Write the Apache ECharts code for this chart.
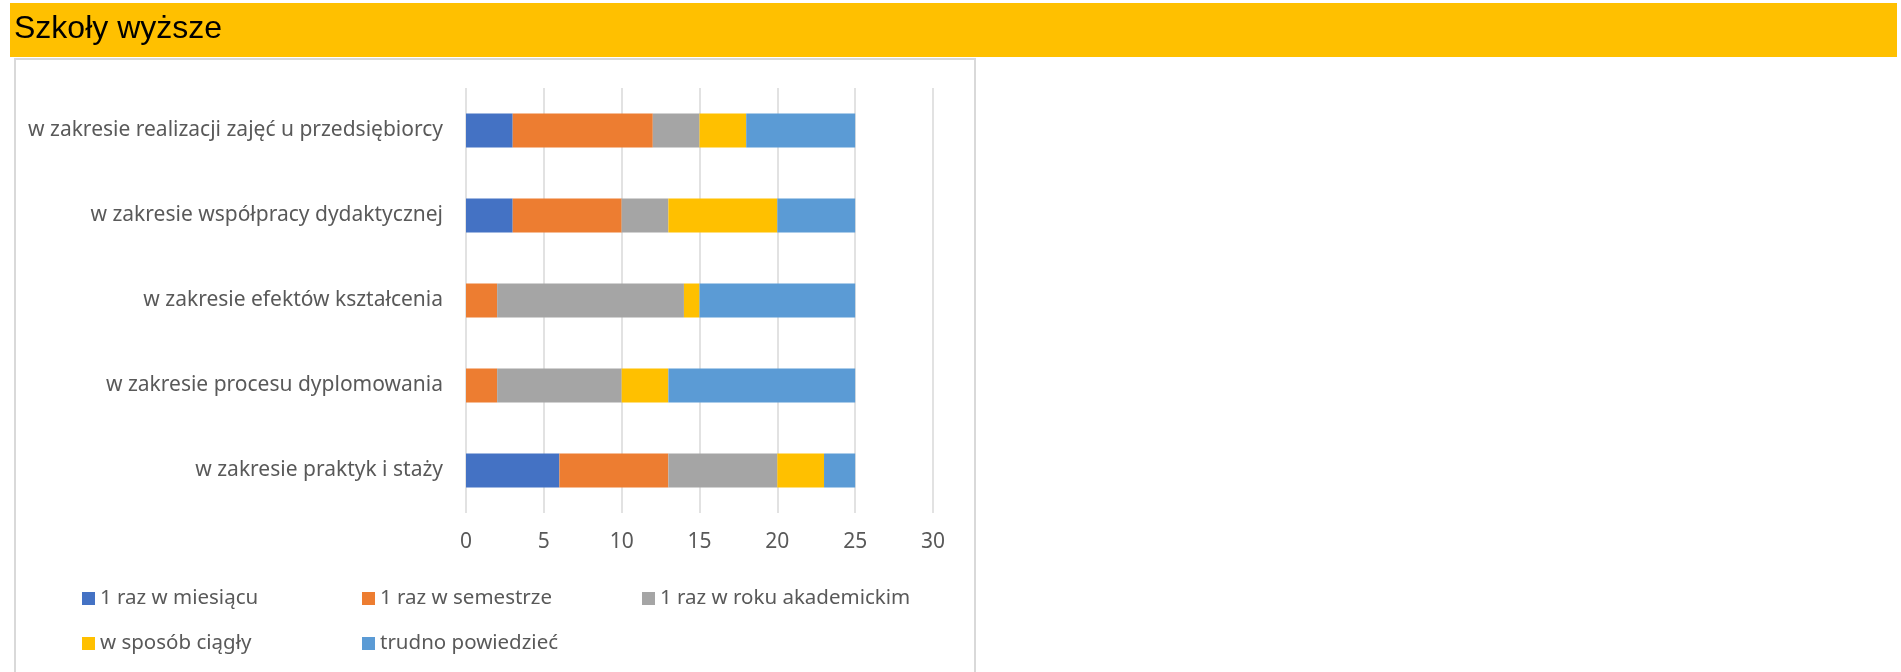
<!DOCTYPE html>
<html>
<head>
<meta charset="utf-8">
<script src="https://cdn.jsdelivr.net/npm/echarts@6/dist/echarts.min.js"></script>
<style>
  html, body { margin: 0; padding: 0; background: #fff; }
  #chart { width: 1901px; height: 672px; }
</style>
</head>
<body>
<div id="chart"></div>
<script>
// categories, top to bottom
var categories = [
    'w zakresie realizacji zajęć u przedsiębiorcy',
    'w zakresie współpracy dydaktycznej',
    'w zakresie efektów kształcenia',
    'w zakresie procesu dyplomowania',
    'w zakresie praktyk i staży'
];
var seriesNames = ['1 raz w miesiącu', '1 raz w semestrze', '1 raz w roku akademickim', 'w sposób ciągły', 'trudno powiedzieć'];
var monthly   = [3, 3, 0, 0, 6];
var semester  = [9, 7, 2, 2, 7];
var yearly    = [3, 3, 12, 8, 7];
var continuous = [3, 7, 1, 3, 3];
var hardToSay = [7, 5, 10, 12, 2];
var xTicks = [0, 5, 10, 15, 20, 25, 30];

var colors = ['#4472C4', '#ED7D31', '#A5A5A5', '#FFC000', '#5B9BD5'];
var values = [monthly, semester, yearly, continuous, hardToSay];
var labelFont = '"Noto Sans", "Open Sans", sans-serif';

var chart = echarts.init(document.getElementById('chart'));

var series = seriesNames.map(function (name, i) {
    return {
        name: name,
        type: 'bar',
        stack: 'total',
        barWidth: 34,
        itemStyle: { color: colors[i] },
        data: values[i]
    };
});

// legend: one per item so the columns line up like the original
var legendPos = [[82, 588], [362, 588], [642, 588], [82, 633], [362, 633]];
var legends = seriesNames.map(function (name, i) {
    return {
        data: [name],
        left: legendPos[i][0],
        top: legendPos[i][1],
        itemWidth: 13,
        itemHeight: 13,
        icon: 'rect',
        padding: 0,
        selectedMode: false,
        textStyle: { color: '#595959', fontSize: 20.5, fontFamily: labelFont }
    };
});

var option = {
    animation: false,
    color: colors,
    graphic: [
        { type: 'rect', z: -10, shape: { x: 10, y: 3, width: 1887, height: 54 }, style: { fill: '#FFC000' } },
        { type: 'rect', z: -10, shape: { x: 15, y: 59, width: 960, height: 640 }, style: { fill: '#fff', stroke: '#d9d9d9', lineWidth: 2 } },
        { type: 'text', x: 14, y: 29, style: { text: 'Szkoły wyższe', fill: '#000', fontSize: 32, fontFamily: '"Liberation Sans", Arial, sans-serif', verticalAlign: 'middle' } }
    ],
    legend: legends,
    grid: { left: 466, top: 88, width: 467, height: 425, containLabel: false },
    xAxis: {
        type: 'value',
        min: xTicks[0],
        max: xTicks[xTicks.length - 1],
        interval: 5,
        axisLine: { show: false },
        axisTick: { show: false },
        splitLine: { lineStyle: { color: '#d9d9d9', width: 1.5 } },
        axisLabel: { color: '#595959', fontSize: 21, fontFamily: labelFont, margin: 19 }
    },
    yAxis: {
        type: 'category',
        inverse: true,
        data: categories,
        axisLine: { show: false },
        axisTick: { show: false },
        axisLabel: { color: '#595959', fontSize: 21, fontFamily: labelFont, margin: 23 }
    },
    series: series
};

chart.setOption(option);
</script>
</body>
</html>
